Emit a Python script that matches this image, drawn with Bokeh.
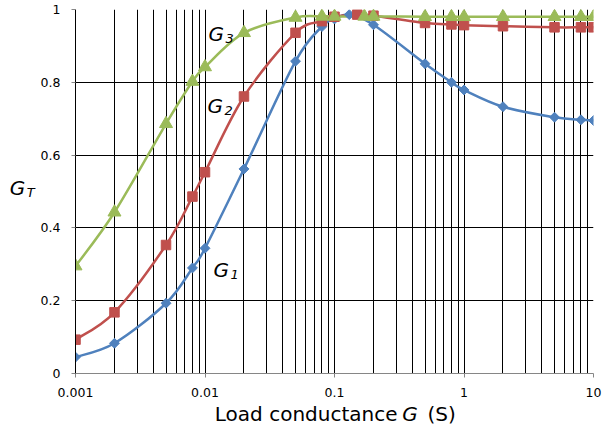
import math
from bokeh.plotting import figure
from bokeh.layouts import row, column
from bokeh.models import Range1d, FixedTicker, Label
from bokeh.embed import file_html
from bokeh.resources import INLINE

# ---- data ----
g1_x = [0.001, 0.002, 0.005, 0.008, 0.01, 0.02, 0.05, 0.08, 0.1, 0.13, 0.2, 0.5, 0.8, 1, 2, 5, 8, 10]
g1_y = [0.045, 0.083, 0.193, 0.290, 0.344, 0.562, 0.858, 0.953, 0.974, 0.986, 0.958, 0.851, 0.800, 0.779, 0.733, 0.704, 0.697, 0.695]

g2_x = [0.001, 0.002, 0.005, 0.008, 0.01, 0.02, 0.05, 0.08, 0.1, 0.15, 0.2, 0.5, 0.8, 1, 2, 5, 8, 10]
g2_y = [0.093, 0.168, 0.353, 0.486, 0.553, 0.761, 0.936, 0.968, 0.980, 0.986, 0.983, 0.963, 0.959, 0.957, 0.954, 0.951, 0.951, 0.951]

g3_x = [0.001, 0.002, 0.005, 0.008, 0.01, 0.02, 0.05, 0.08, 0.1, 0.17, 0.2, 0.5, 0.8, 1, 2, 5, 8, 10]
g3_y = [0.295, 0.443, 0.686, 0.802, 0.842, 0.936, 0.978, 0.981, 0.981, 0.981, 0.981, 0.980, 0.980, 0.980, 0.980, 0.980, 0.980, 0.980]

x_ticks = [0.001, 0.01, 0.1, 1, 10]
x_tick_labels = ["0.001", "0.01", "0.1", "1", "10"]
y_ticks = [0, 0.2, 0.4, 0.6, 0.8, 1]
y_tick_labels = ["0", "0.2", "0.4", "0.6", "0.8", "1"]

BLUE = "#4F81BD"
RED = "#C0504D"
GREEN = "#9BBB59"
FONT = "DejaVu Sans"

# ---- layout sizes (pixels) ----
W, H = 602, 431
LEFT_STRIP = 36
MAIN_H = 402
GAP = 6            # gap the browser leaves between stacked blocks
BOTTOM_STRIP = H - MAIN_H - GAP
MAIN_W = W - LEFT_STRIP

p = figure(width=MAIN_W, height=MAIN_H, x_axis_type="log",
           x_range=Range1d(0.001, 10), y_range=Range1d(0, 1),
           output_backend="svg", toolbar_location=None,
           min_border_left=75 - LEFT_STRIP, min_border_right=9,
           min_border_top=9, min_border_bottom=MAIN_H - 373)
p.outline_line_color = None
p.background_fill_color = "white"
p.border_fill_color = "white"

# grid
minor_positions = [k * 10.0 ** d for d in range(-3, 1) for k in range(1, 10)] + [10]
p.xgrid.ticker = FixedTicker(ticks=minor_positions)
p.xgrid.grid_line_color = "black"
p.xgrid.grid_line_width = 1
p.ygrid.ticker = FixedTicker(ticks=y_ticks)
p.ygrid.grid_line_color = "black"
p.ygrid.grid_line_width = 1

# axes
p.xaxis.ticker = FixedTicker(ticks=x_ticks)
p.xaxis.major_label_overrides = {t: l for t, l in zip(x_ticks, x_tick_labels)}
p.yaxis.ticker = FixedTicker(ticks=y_ticks)
p.yaxis.major_label_overrides = {t: l for t, l in zip(y_ticks, y_tick_labels)}
for ax in (p.xaxis, p.yaxis):
    ax.axis_line_color = "#868686"
    ax.major_tick_line_color = "#868686"
    ax.minor_tick_line_color = None
    ax.major_tick_in = 0
    ax.major_tick_out = 4
    ax.major_label_text_font = FONT
    ax.major_label_text_font_size = "12.5px"
    ax.major_label_text_color = "black"
p.yaxis.axis_line_color = "black"
p.xaxis.major_label_standoff = 10
p.yaxis.major_label_standoff = 11


def smooth_segments(xs, ys):
    lx = [math.log10(v) for v in xs]
    n = len(xs)
    out = dict(x0=[], y0=[], x1=[], y1=[], cx0=[], cy0=[], cx1=[], cy1=[])
    for i in range(n - 1):
        i0 = max(i - 1, 0)
        i3 = min(i + 2, n - 1)
        c1x = lx[i] + (lx[i + 1] - lx[i0]) / 6.0
        c1y = ys[i] + (ys[i + 1] - ys[i0]) / 6.0
        c2x = lx[i + 1] - (lx[i3] - lx[i]) / 6.0
        c2y = ys[i + 1] - (ys[i3] - ys[i]) / 6.0
        out["x0"].append(xs[i]); out["y0"].append(ys[i])
        out["x1"].append(xs[i + 1]); out["y1"].append(ys[i + 1])
        out["cx0"].append(10 ** c1x); out["cy0"].append(c1y)
        out["cx1"].append(10 ** c2x); out["cy1"].append(c2y)
    return out


for xs, ys, col in ((g1_x, g1_y, BLUE), (g2_x, g2_y, RED), (g3_x, g3_y, GREEN)):
    seg = smooth_segments(xs, ys)
    p.bezier(x0=seg["x0"], y0=seg["y0"], x1=seg["x1"], y1=seg["y1"],
             cx0=seg["cx0"], cy0=seg["cy0"], cx1=seg["cx1"], cy1=seg["cy1"],
             line_color=col, line_width=2.5)

p.scatter(g1_x, g1_y, marker="square", angle=math.pi / 4, size=7,
          fill_color=BLUE, line_color=BLUE)
p.scatter(g2_x, g2_y, marker="square", size=9.5, fill_color=RED, line_color=RED)
p.scatter(g3_x, g3_y, marker="triangle", size=13, fill_color=GREEN, line_color=GREEN)


# ---- helper strips for the texts outside the plot area ----
def strip(width, height, y_top):
    f = figure(width=width, height=height, output_backend="svg", toolbar_location=None,
               title=None,
               x_range=Range1d(0, width), y_range=Range1d(y_top + height, y_top),
               x_axis_location=None, y_axis_location=None,
               min_border=0, min_border_left=0, min_border_right=0,
               min_border_top=0, min_border_bottom=0)
    f.grid.visible = False
    f.outline_line_color = None
    f.background_fill_color = "white"
    f.border_fill_color = "white"
    return f


pl = strip(LEFT_STRIP, MAIN_H, 0)                  # data coords == page pixels
pb = strip(W, BOTTOM_STRIP, MAIN_H + GAP)          # data coords == page pixels

REF_L, REF_R, REF_T, REF_B = 75.3, 593.3, 9.0, 373.0


def ref_pos(px, py):
    lx = -3 + (px - REF_L) / (REF_R - REF_L) * 4
    return 10 ** lx, (REF_B - py) / (REF_B - REF_T)


def add_text(fig, x, y, text, size, italic=False, align="left"):
    fig.add_layout(Label(x=x, y=y, text=text, text_font=FONT, text_font_size=size,
                         text_font_style="italic" if italic else "normal",
                         text_align=align, text_baseline="alphabetic",
                         text_color="black"))


def sub_label_main(px, py, main, sub):
    x, y = ref_pos(px, py)
    add_text(p, x, y, main, "20px", italic=True)
    x2, y2 = ref_pos(px + 17, py + 5)
    add_text(p, x2, y2, sub, "13px", italic=True)


sub_label_main(208.3, 33.3, "G", "3")
sub_label_main(207.3, 105.0, "G", "2")
sub_label_main(213.3, 269.0, "G", "1")

# y-axis title G_T
add_text(pl, 9.3, 196.7, "G", "20px", italic=True)
add_text(pl, 26.3, 201.7, "T", "13px", italic=True)

# x-axis title "Load conductance G (S)"
add_text(pb, 397.0, 419.0, "Load conductance", "20px", align="right")
add_text(pb, 409.5, 419.0, "G", "20px", italic=True, align="center")
add_text(pb, 427.0, 419.0, "(S)", "20px", align="left")

layout = column(row(pl, p, spacing=0), pb, spacing=0)
open("out.html", "w").write(file_html(layout, INLINE))
